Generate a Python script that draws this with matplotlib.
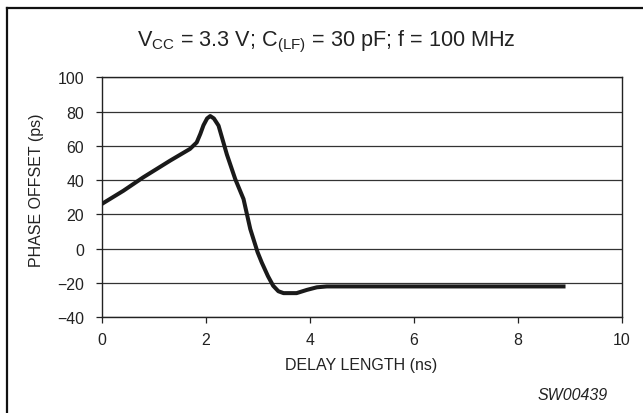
import matplotlib
matplotlib.use("Agg")
import matplotlib.pyplot as plt
from matplotlib.lines import Line2D

plt.rcParams['font.family'] = ['Liberation Sans', 'DejaVu Sans']
plt.rcParams['mathtext.fontset'] = 'custom'
plt.rcParams['mathtext.rm'] = 'Liberation Sans'
plt.rcParams['mathtext.it'] = 'Liberation Sans:italic'

# Data
delay_ns = [0, 0.42, 0.8, 1.32, 1.7, 1.83, 1.9, 1.96, 2.03, 2.09, 2.16, 2.25, 2.41, 2.57,
            2.73, 2.86, 3.0, 3.08, 3.2, 3.3, 3.4, 3.5, 3.75, 3.95, 4.14, 4.33, 6, 8, 8.92]
phase_ps = [26, 33.8, 41.6, 51.4, 58.2, 62, 67, 72, 76, 77.4, 76, 71.8, 55, 40.7,
            29, 11.5, -2, -8, -16, -21.6, -24.8, -25.9, -25.9, -24, -22.5, -22, -22, -22, -22]

x_ticks = [0, 2, 4, 6, 8, 10]
y_ticks = [-40, -20, 0, 20, 40, 60, 80, 100]
y_tick_labels = ['\u221240', '\u221220', '0', '20', '40', '60', '80', '100']

title = r"V$_{\rm CC}$ = 3.3 V; C$_{\rm (LF)}$ = 30 pF; f = 100 MHz"
x_label = "DELAY LENGTH (ns)"
y_label = "PHASE OFFSET (ps)"
code = "SW00439"

W, H = 643, 414
fig = plt.figure(figsize=(W / 100, H / 100), dpi=100)
ax = fig.add_axes([101.5 / W, 1 - 318.3 / H, (621.7 - 101.5) / W, (318.3 - 78.3) / H])

ax.plot(delay_ns, phase_ps, color='#1a1a1a', lw=2.9, solid_joinstyle='round',
        solid_capstyle='butt', zorder=3)

ax.set_xlim(0, 10)
ax.set_ylim(-40, 100)
ax.set_xticks(x_ticks)
ax.set_yticks(y_ticks)
ax.set_yticklabels(y_tick_labels)
ax.grid(axis='y', color='#333333', lw=0.9)
ax.set_axisbelow(True)
for s in ax.spines.values():
    s.set_color('#222222')
    s.set_linewidth(1.0)
ax.tick_params(axis='both', direction='out', length=4.3, width=0.9, color='#222222',
               labelsize=11.4, labelcolor='#222222')
ax.tick_params(axis='y', pad=8.3)
ax.tick_params(axis='x', pad=6.5)

ax.set_xlabel(x_label, fontsize=11.5, color='#222222')
ax.xaxis.set_label_coords(0.5, -(366 - 318.3) / 240.0)
ax.xaxis.label.set_va('center')
ax.set_ylabel(y_label, fontsize=11.5, color='#222222')
ax.yaxis.set_label_coords(-(101.5 - 37) / 520.2, (318.3 - 190) / 240.0)
ax.yaxis.label.set_va('center')

fig.text(326 / W, 1 - 42 / H, title, ha='center', va='center', fontsize=15.6, color='#222222')
fig.text(608 / W, 1 - 396 / H, code, ha='right', va='center', fontsize=11.5,
         style='italic', color='#222222')

# figure frame (left & top visible)
fig.add_artist(Line2D([7 / W, 7 / W], [0, 1 - 9 / H], transform=fig.transFigure,
                      color='#111111', lw=1.6))
fig.add_artist(Line2D([7 / W, 1], [1 - 9 / H, 1 - 9 / H], transform=fig.transFigure,
                      color='#111111', lw=1.6))

fig.savefig('out.png', dpi=100)
